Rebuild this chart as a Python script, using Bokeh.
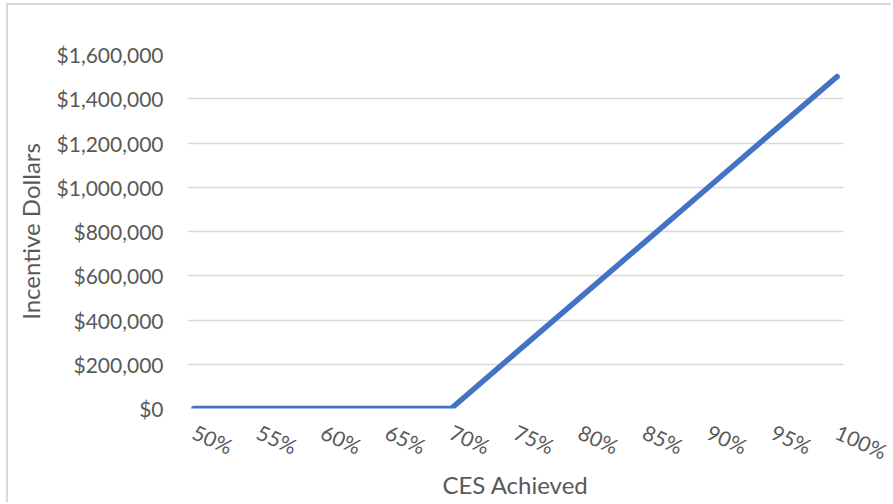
from bokeh.plotting import figure
from bokeh.models import Range1d, FixedTicker, NumeralTickFormatter
from bokeh.embed import file_html
from bokeh.resources import INLINE

categories = ["50%", "55%", "60%", "65%", "70%", "75%", "80%", "85%", "90%", "95%", "100%"]
incentive = [0, 0, 0, 0, 0, 250000, 500000, 750000, 1000000, 1250000, 1500000]
y_ticks = [0, 200000, 400000, 600000, 800000, 1000000, 1200000, 1400000, 1600000]

FONT = "Lato"
GRAY = "#595959"

xs = list(range(len(categories)))

p = figure(width=885, height=499, output_backend="svg", toolbar_location=None,
           x_range=Range1d(-0.1, len(categories) - 1 + 0.1),
           y_range=Range1d(0, 1600000),
           min_border_left=179, min_border_right=50, min_border_top=49, min_border_bottom=96)
p.styles = {"margin-left": "6px", "margin-top": "3px",
            "border-left": "2px solid #d9d9d9", "border-top": "2px solid #d9d9d9"}
p.outline_line_color = None
p.background_fill_color = "white"
p.border_fill_color = "white"

p.line(xs, incentive, line_color="#4472C4", line_width=5.5, line_cap="round", line_join="round")

p.xgrid.grid_line_color = None
p.ygrid.grid_line_color = "#d9d9d9"
p.ygrid.grid_line_width = 1.5

p.yaxis.ticker = FixedTicker(ticks=y_ticks)
p.yaxis.formatter = NumeralTickFormatter(format="$0,0")
p.xaxis.ticker = FixedTicker(ticks=xs)
p.xaxis.major_label_overrides = {i: c for i, c in enumerate(categories)}
p.xaxis.major_label_orientation = -0.42

for ax in (p.xaxis, p.yaxis):
    ax.axis_line_color = None
    ax.major_tick_line_color = None
    ax.minor_tick_line_color = None
    ax.major_tick_out = 0
    ax.major_tick_in = 0
    ax.major_label_text_font = FONT
    ax.major_label_text_font_size = "21px"
    ax.major_label_text_color = GRAY
    ax.axis_label_text_font = FONT
    ax.axis_label_text_font_size = "24px"
    ax.axis_label_text_color = GRAY
    ax.axis_label_text_font_style = "normal"

p.yaxis.major_label_standoff = 24
p.xaxis.major_label_standoff = 22
p.yaxis.axis_label = "Incentive Dollars"
p.xaxis.axis_label = "CES Achieved"
p.yaxis.axis_label_standoff = 9
p.xaxis.axis_label_standoff = -8

open("out.html", "w").write(file_html(p, INLINE))
